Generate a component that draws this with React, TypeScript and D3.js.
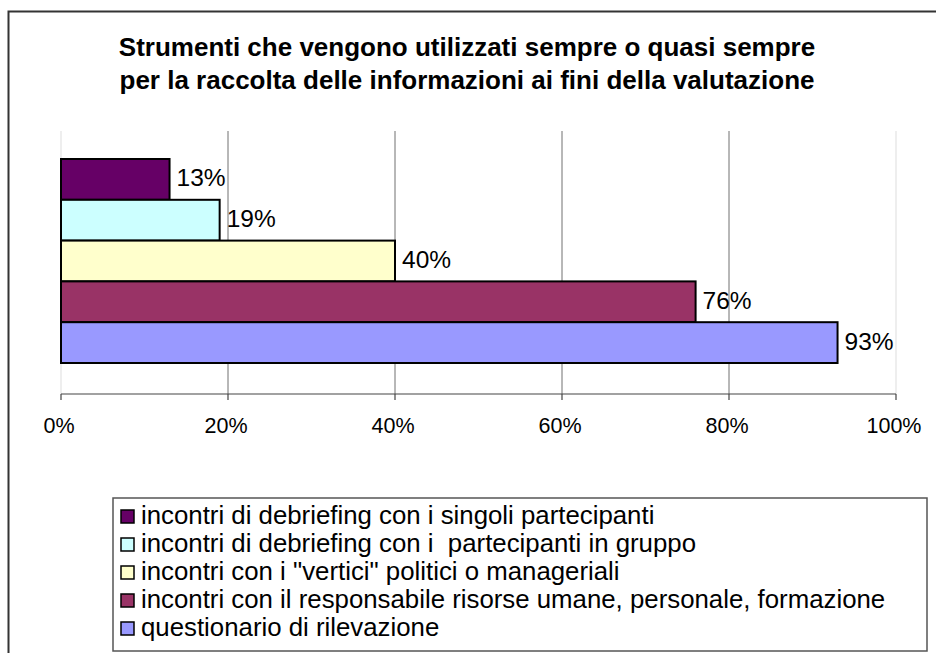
import React from "react";
import * as d3 from "d3";

const titleLines = [
  "Strumenti che vengono utilizzati sempre o quasi sempre",
  "per la raccolta delle informazioni ai fini della valutazione",
];
const seriesNames = [
  "incontri di debriefing con i singoli partecipanti",
  "incontri di debriefing con i  partecipanti in gruppo",
  'incontri con i "vertici" politici o manageriali',
  "incontri con il responsabile risorse umane, personale, formazione",
  "questionario di rilevazione",
];
const seriesValues = [13, 19, 40, 76, 93];
const seriesColors = ["#660066", "#CCFFFF", "#FFFFCC", "#993366", "#9999FF"];
const tickValues = [0, 20, 40, 60, 80, 100];

const W = 936;
const H = 653;
const FONT = "'Liberation Sans', Arial, Helvetica, sans-serif";

export default function App() {
  const plot = { left: 61, right: 896, top: 131, bottom: 394 };
  const x = d3.scaleLinear().domain([0, 100]).range([plot.left, plot.right]);
  const y = d3
    .scaleBand<number>()
    .domain(d3.range(seriesValues.length))
    .range([159, 363])
    .padding(0);

  const legend = { x: 113, y: 498, w: 814, h: 153 };
  const legendY = d3.scaleLinear().domain([0, 1]).range([524, 552]);

  return (
    <svg
      width={W}
      height={H}
      style={{ position: "absolute", left: 0, top: 0, background: "#fff" }}
      fontFamily={FONT}
    >
      <rect x={0} y={0} width={W} height={H} fill="#fff" />
      {/* outer chart border */}
      <rect x={8.5} y={11.5} width={W + 20} height={H + 20} fill="none" stroke="#333" strokeWidth={2} />

      {/* title */}
      {titleLines.map((t, i) => (
        <text
          key={i}
          x={467}
          y={56 + i * 33}
          textAnchor="middle"
          fontWeight="bold"
          fontSize={26}
          fill="#000"
        >
          {t}
        </text>
      ))}

      {/* gridlines */}
      {tickValues.map((v) => (
        <line
          key={"g" + v}
          x1={x(v)}
          x2={x(v)}
          y1={plot.top}
          y2={plot.bottom}
          stroke={v === 0 || v === 100 ? "#dddddd" : "#707070"}
          strokeWidth={1}
        />
      ))}

      {/* bars */}
      {seriesValues.map((v, i) => (
        <rect
          key={"b" + i}
          x={x(0)}
          y={y(i)!}
          width={x(v) - x(0)}
          height={y.bandwidth()}
          fill={seriesColors[i]}
          stroke="#000"
          strokeWidth={2}
        />
      ))}

      {/* data labels */}
      {seriesValues.map((v, i) => (
        <text
          key={"l" + i}
          x={x(v) + 7}
          y={y(i)! + y.bandwidth() / 2 + 7}
          fontSize={24.5}
          fill="#000"
        >
          {v + "%"}
        </text>
      ))}

      {/* x axis */}
      <line x1={plot.left} x2={plot.right} y1={plot.bottom} y2={plot.bottom} stroke="#444" strokeWidth={1.2} />
      {tickValues.map((v) => (
        <g key={"t" + v}>
          <line x1={x(v)} x2={x(v)} y1={plot.bottom} y2={plot.bottom + 6} stroke="#444" strokeWidth={1.2} />
          <text x={x(v) - 2} y={433} textAnchor="middle" fontSize={21.5} fill="#000">
            {v + "%"}
          </text>
        </g>
      ))}

      {/* legend */}
      <rect
        x={legend.x}
        y={legend.y}
        width={legend.w}
        height={legend.h}
        fill="#fff"
        stroke="#555"
        strokeWidth={1.5}
      />
      {seriesNames.map((n, i) => (
        <g key={"lg" + i}>
          <rect
            x={121}
            y={legendY(i) - 14}
            width={13}
            height={13}
            fill={seriesColors[i]}
            stroke="#000"
            strokeWidth={1.5}
          />
          <text x={141} y={legendY(i)} fontSize={25.8} fill="#000" style={{ whiteSpace: "pre" }}>
            {n}
          </text>
        </g>
      ))}
    </svg>
  );
}
